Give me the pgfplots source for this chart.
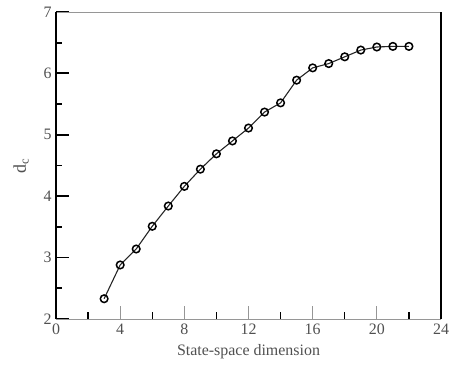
\documentclass[border=0pt]{standalone}
\usepackage{pgfplots}
\pgfplotsset{compat=1.18}
\usepackage{fontspec}
\setmainfont{Liberation Serif}
\definecolor{txt}{RGB}{80,80,80}
\definecolor{frame}{RGB}{150,150,150}
\begin{document}
\begin{tikzpicture}
\useasboundingbox (-56bp,-49bp) rectangle (393bp,319bp);
\begin{axis}[
  at={(0,0)}, anchor=south west,
  scale only axis,
  width=385bp, height=307bp,
  xmin=0, xmax=24, ymin=2, ymax=7,
  xtick={0,4,...,24}, ytick={2,3,...,7},
  minor x tick num=1, minor y tick num=1,
  xtick pos=bottom, ytick pos=left,
  tick align=inside,
  major tick length=12.5bp, minor tick length=6.5bp,
  separate axis lines,
  x axis line style={frame, line width=0.9bp},
  y axis line style={black, line width=1.7bp},
  every major x tick/.style={frame, line width=0.9bp},
  every minor x tick/.style={black, line width=1.2bp},
  every major y tick/.style={black, line width=1.8bp},
  every minor y tick/.style={black, line width=1.8bp},
  tick label style={font=\fontsize{16}{18}\selectfont, text=txt},
  /pgf/number format/assume math mode=true,
  xticklabel style={yshift=-1bp},
  yticklabel style={xshift=-1bp},
  label style={font=\fontsize{16}{18}\selectfont, text=txt},
  xlabel={State-space dimension},
  ylabel={d\textsubscript{c}},
  xlabel style={yshift=-3bp},
  ylabel style={yshift=8bp, font=\fontsize{18}{20}\selectfont},
]
\addplot[black!85, line width=1.1bp, mark=o, mark size=3.8bp,
  mark options={line width=1.5bp, black}]
  coordinates {
  (3,2.33) (4,2.88) (5,3.14) (6,3.51) (7,3.84) (8,4.16)
  (9,4.44) (10,4.69) (11,4.90) (12,5.11) (13,5.37) (14,5.52)
  (15,5.89) (16,6.09) (17,6.16) (18,6.27) (19,6.38) (20,6.43)
  (21,6.44) (22,6.44)
  };
\end{axis}
\end{tikzpicture}
\end{document}
